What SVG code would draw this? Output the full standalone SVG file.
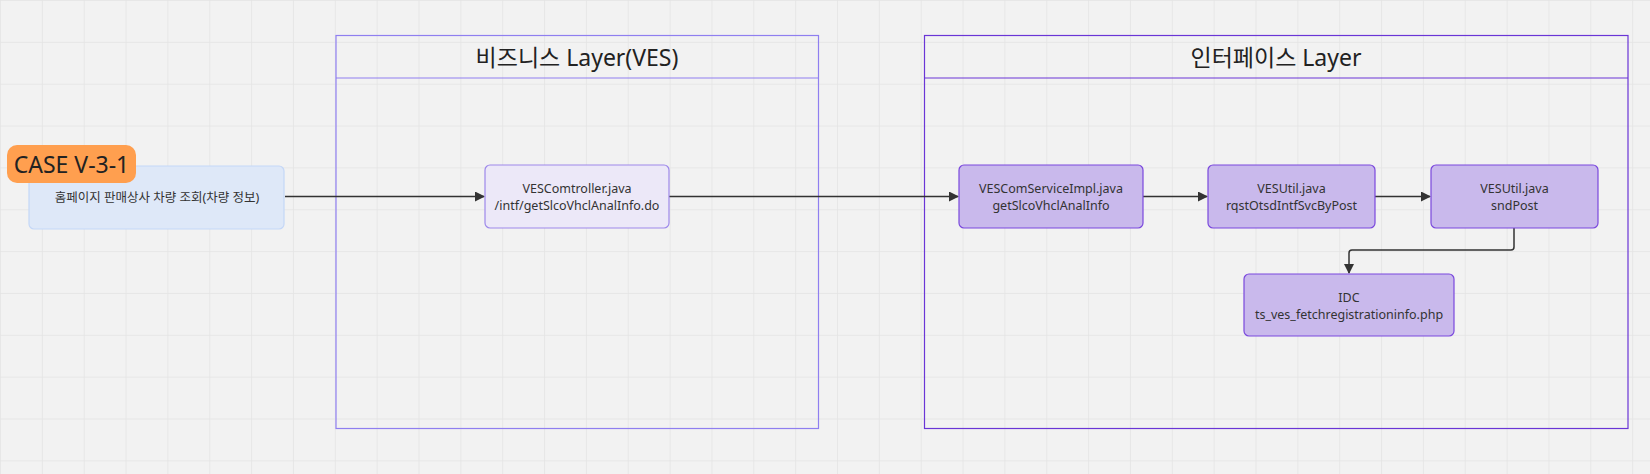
<svg xmlns="http://www.w3.org/2000/svg" width="1650" height="474" viewBox="0 0 1650 474">
<defs>
<pattern id="grid" width="41.85" height="41.85" patternUnits="userSpaceOnUse">
<path d="M0 0 H41.85 M0 0 V41.85" fill="none" stroke="#e4e4e4" stroke-width="1.5"/>
</pattern>
<marker id="arr" viewBox="0 0 10 10" refX="9" refY="5" markerWidth="10" markerHeight="10" markerUnits="userSpaceOnUse" orient="auto">
<path d="M0 0 L10 5 L0 10 Z" fill="#333"/>
</marker>
<style>
.t{font-family:"Noto Sans","Noto Sans CJK KR",sans-serif;fill:#333;text-anchor:middle}
.n{font-size:12.5px}
.title{font-size:23px;fill:#222}
.conn{fill:none;stroke:#333;stroke-width:1.5}
.inode{fill:#c9b9ec;stroke:#7a48dd;stroke-width:1.2}
</style>
</defs>
<rect width="1650" height="474" fill="#f2f2f2"/>
<rect width="1650" height="474" fill="url(#grid)"/>

<g id="layer-business">
<rect x="336" y="35.5" width="482.5" height="393" fill="none" stroke="#8f7ff0" stroke-width="1.2"/>
<line x1="336" y1="78" x2="818.5" y2="78" stroke="#8f7ff0" stroke-width="1.2"/>
<text class="t title" x="577" y="66">비즈니스 Layer(VES)</text>
</g>

<g id="layer-interface">
<rect x="924.5" y="35.5" width="703.5" height="393" fill="none" stroke="#6a35d6" stroke-width="1.2"/>
<line x1="924.5" y1="78" x2="1628" y2="78" stroke="#6a35d6" stroke-width="1.2"/>
<text class="t title" x="1276" y="66">인터페이스 Layer</text>
</g>

<g id="connectors">
<path class="conn" d="M285 196.5 H484" marker-end="url(#arr)"/>
<path class="conn" d="M669 196.5 H958" marker-end="url(#arr)"/>
<path class="conn" d="M1143 196.5 H1207" marker-end="url(#arr)"/>
<path class="conn" d="M1375 196.5 H1430" marker-end="url(#arr)"/>
<path class="conn" d="M1514 228 V247 Q1514 250 1511 250 H1352 Q1349 250 1349 253 V273" marker-end="url(#arr)"/>
</g>

<g id="node-input">
<rect x="29" y="166" width="255" height="63" rx="5" fill="#dee8f8" stroke="#c4d7f7" stroke-width="1.2"/>
<text class="t n" x="157" y="202">홈페이지 판매상사 차량 조회(차량 정보)</text>
</g>

<g id="node-case">
<rect x="7" y="145" width="129" height="38" rx="10" fill="#ff9f4f"/>
<text class="t" x="71.5" y="173" style="font-size:23px;fill:#222">CASE V-3-1</text>
</g>

<g id="node-controller">
<rect x="485" y="165" width="184" height="63" rx="5" fill="#ece8f8" stroke="#9d88ea" stroke-width="1.2"/>
<text class="t n" x="577" y="193">VESComtroller.java</text>
<text class="t n" x="577" y="210">/intf/getSlcoVhclAnalInfo.do</text>
</g>

<g id="node-serviceimpl">
<rect class="inode" x="959" y="165" width="184" height="63" rx="5"/>
<text class="t n" x="1051" y="193">VESComServiceImpl.java</text>
<text class="t n" x="1051" y="210">getSlcoVhclAnalInfo</text>
</g>

<g id="node-util-rqst">
<rect class="inode" x="1208" y="165" width="167" height="63" rx="5"/>
<text class="t n" x="1291.5" y="193">VESUtil.java</text>
<text class="t n" x="1291.5" y="210">rqstOtsdIntfSvcByPost</text>
</g>

<g id="node-util-snd">
<rect class="inode" x="1431" y="165" width="167" height="63" rx="5"/>
<text class="t n" x="1514.5" y="193">VESUtil.java</text>
<text class="t n" x="1514.5" y="210">sndPost</text>
</g>

<g id="node-idc">
<rect class="inode" x="1244" y="274" width="210" height="62" rx="5"/>
<text class="t n" x="1349" y="302">IDC</text>
<text class="t n" x="1349" y="319">ts_ves_fetchregistrationinfo.php</text>
</g>
</svg>
